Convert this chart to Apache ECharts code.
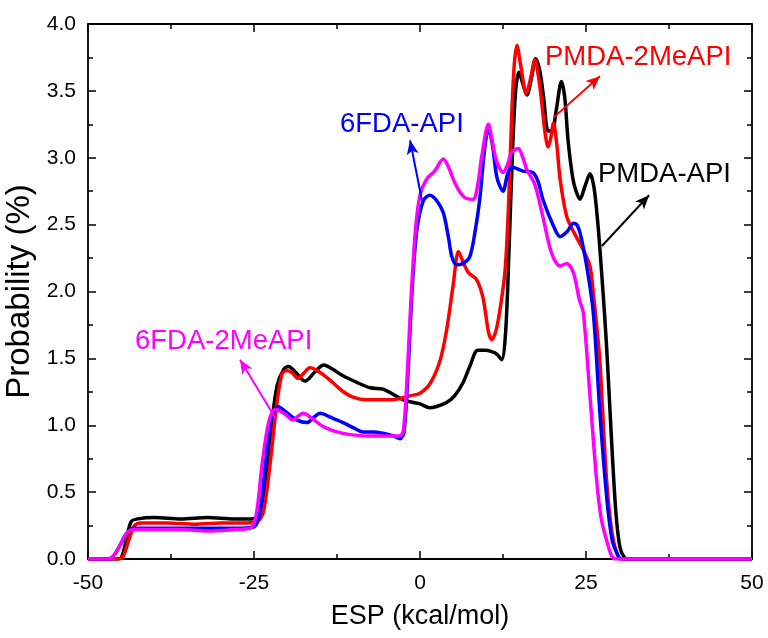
<!DOCTYPE html>
<html>
<head>
<meta charset="utf-8">
<script src="https://cdn.jsdelivr.net/npm/echarts@6/dist/echarts.min.js"></script>
<style>
  html, body { margin: 0; padding: 0; background: #fff; }
  #chart { width: 768px; height: 638px; }
</style>
</head>
<body>
<div id="chart"></div>
<script>
// ESP distribution curves, [ESP (kcal/mol), probability (%)]
var pmdaApi = [[-50,0],[-46,0],[-45,0.01],[-44.2,0.15],[-43.5,0.28],[-42.5,0.30],[-40,0.31],[-36,0.30],[-32,0.31],[-28,0.30],[-25.5,0.30],[-24.5,0.32],[-23.5,0.5],[-22.5,0.95],[-21.5,1.3],[-20.5,1.42],[-19.8,1.44],[-18.8,1.4],[-17.3,1.33],[-15.8,1.40],[-14.5,1.45],[-13.2,1.42],[-11.6,1.37],[-9.5,1.32],[-7.5,1.28],[-5.6,1.27],[-4,1.23],[-2.5,1.19],[-1,1.17],[0,1.16],[1.5,1.13],[2.5,1.14],[4,1.17],[5.2,1.22],[6.5,1.32],[7.5,1.44],[8.7,1.56],[9.8,1.56],[10.8,1.55],[11.6,1.53],[12.3,1.49],[12.9,1.7],[13.4,2.3],[13.9,3.0],[14.4,3.5],[14.9,3.64],[15.5,3.55],[16.1,3.47],[16.8,3.6],[17.4,3.74],[18.0,3.66],[18.6,3.46],[19.3,3.2],[19.9,3.2],[20.5,3.35],[21.3,3.57],[21.8,3.45],[22.3,3.13],[23.0,2.85],[23.5,2.75],[24.1,2.69],[24.8,2.78],[25.6,2.88],[26.2,2.78],[26.8,2.5],[27.5,2.04],[28.1,1.59],[28.9,0.84],[29.5,0.35],[30.1,0.09],[30.8,0.01],[31.5,0],[50,0]];
var pmda2MeApi = [[-50,0],[-45.5,0],[-44.7,0.02],[-43.8,0.15],[-43,0.25],[-42,0.27],[-38,0.27],[-34,0.26],[-30,0.27],[-26,0.27],[-24.5,0.28],[-23.6,0.35],[-22.6,0.7],[-21.6,1.15],[-20.8,1.38],[-20.1,1.41],[-19.2,1.39],[-18.4,1.35],[-17.5,1.39],[-16.6,1.43],[-15.5,1.41],[-13.6,1.34],[-11.8,1.26],[-10.1,1.21],[-8,1.19],[-6,1.19],[-4.5,1.19],[-3,1.2],[-1.5,1.22],[0,1.24],[1.5,1.31],[3,1.48],[4,1.71],[5,2.05],[5.8,2.30],[6.5,2.22],[7.3,2.14],[8.5,2.09],[9.5,1.95],[10.3,1.7],[10.8,1.64],[11.4,1.7],[12,1.85],[12.8,2.15],[13.3,2.6],[13.8,3.3],[14.2,3.7],[14.6,3.84],[15.2,3.68],[16,3.48],[16.6,3.58],[17.3,3.73],[17.8,3.62],[18.3,3.43],[18.8,3.2],[19.3,3.08],[19.7,3.15],[20.1,3.26],[20.6,3.1],[21.1,2.84],[22.1,2.56],[23.2,2.44],[24.6,2.31],[25.6,2.19],[26.1,1.99],[26.6,1.75],[27.1,1.47],[28.1,0.59],[28.9,0.2],[29.6,0.05],[30.3,0],[50,0]];
var fdaApi = [[-50,0],[-47,0],[-46.2,0.02],[-45.2,0.1],[-44.2,0.19],[-43.2,0.23],[-40,0.23],[-36,0.23],[-32,0.23],[-28,0.23],[-25,0.24],[-24.1,0.35],[-23.3,0.7],[-22.4,1.05],[-21.4,1.14],[-20.2,1.1],[-18.6,1.04],[-17,1.02],[-16,1.06],[-15,1.09],[-13.5,1.06],[-11.6,1.02],[-10,0.98],[-8.6,0.95],[-7,0.95],[-5.6,0.94],[-4,0.92],[-3,0.90],[-2.4,0.95],[-1.8,1.4],[-1.2,2.0],[-0.5,2.45],[0.5,2.68],[1.5,2.72],[2.5,2.68],[3.5,2.59],[4.3,2.4],[4.8,2.26],[5.5,2.20],[6.5,2.21],[7.5,2.26],[8.3,2.45],[9,2.69],[9.7,3.05],[10.3,3.22],[10.9,3.1],[11.6,2.85],[12.5,2.75],[13.2,2.88],[13.8,2.93],[15.5,2.90],[17,2.89],[17.8,2.82],[18.5,2.69],[20.1,2.49],[21.1,2.41],[22.2,2.45],[23.1,2.51],[23.6,2.5],[24.1,2.44],[25.1,2.19],[26.1,1.84],[27.1,1.09],[28.1,0.47],[28.9,0.15],[29.6,0.05],[30.3,0],[50,0]];
var fda2MeApi = [[-50,0],[-47,0],[-46.2,0.02],[-45.2,0.1],[-44.2,0.19],[-43.2,0.22],[-40,0.22],[-36,0.22],[-32,0.21],[-28,0.22],[-25.5,0.23],[-24.6,0.35],[-23.8,0.7],[-22.8,1.02],[-21.8,1.12],[-20.5,1.09],[-19.1,1.04],[-18.3,1.07],[-17.6,1.09],[-16.2,1.05],[-14.6,0.99],[-12.5,0.95],[-10.5,0.93],[-8,0.92],[-5.6,0.92],[-4,0.92],[-3,0.92],[-2.5,0.96],[-2,1.3],[-1.4,1.9],[-0.7,2.45],[0,2.72],[1,2.84],[2.2,2.9],[3.5,2.99],[4.3,2.93],[5,2.84],[5.8,2.76],[6.8,2.70],[8,2.69],[8.7,2.8],[9.3,3.01],[10.3,3.25],[10.9,3.12],[11.5,2.98],[12.5,2.89],[13.2,2.95],[13.8,3.04],[14.8,3.07],[15.5,3.0],[16.1,2.91],[17.3,2.80],[18.5,2.56],[19.8,2.29],[21.1,2.19],[22.1,2.21],[23.1,2.14],[24,1.94],[24.6,1.84],[25.6,1.22],[26.6,0.59],[27.3,0.3],[28.1,0.14],[28.8,0.03],[29.4,0],[50,0]];

// annotation arrows, [tail, head] in data coords
var arrowPmdaApi = [[27.4, 2.34], [34.5, 2.72]];
var arrowPmda2MeApi = [[20.1, 3.30], [27.1, 3.61]];
var arrowFdaApi = [[0.3, 2.68], [-1.5, 3.13]];
var arrowFda2MeApi = [[-21.6, 1.04], [-27.1, 1.49]];

var xTicks = [-50, -25, 0, 25, 50];
var yTicks = [0, 0.5, 1, 1.5, 2, 2.5, 3, 3.5, 4];

var font = 'Liberation Sans, Arial, sans-serif';

var chart = echarts.init(document.getElementById('chart'));

function frameAxis(pos, showLabel) {
  return {
    type: 'value',
    position: pos,
    axisLine: { show: true, onZero: false, lineStyle: { color: '#000', width: 1.8 } },
    axisTick: { show: true, inside: true, length: 8, lineStyle: { color: '#000', width: 1.5 } },
    minorTick: { show: true, splitNumber: 2, length: 5, lineStyle: { color: '#000', width: 1.5 } },
    splitLine: { show: false },
    axisLabel: { show: showLabel, color: '#000', fontSize: 21, fontFamily: font }
  };
}

var xb = frameAxis('bottom', true);
xb.min = xTicks[0]; xb.max = xTicks[xTicks.length - 1]; xb.interval = 25;
xb.axisLabel.margin = 14;
xb.name = 'ESP (kcal/mol)';
xb.nameLocation = 'middle';
xb.nameGap = 44;
xb.nameTextStyle = { color: '#000', fontSize: 27, fontFamily: font };
var xt = frameAxis('top', false);
xt.min = -50; xt.max = 50; xt.interval = 25;

var yl = frameAxis('left', true);
yl.min = yTicks[0]; yl.max = yTicks[yTicks.length - 1]; yl.interval = 0.5;
yl.axisLabel.margin = 12;
yl.axisLabel.formatter = function (v) { return v.toFixed(1); };
yl.name = 'Probability (%)';
yl.nameLocation = 'middle';
yl.nameGap = 48;
yl.nameTextStyle = { color: '#000', fontSize: 33, fontFamily: font };
var yr = frameAxis('right', false);
yr.min = 0; yr.max = 4; yr.interval = 0.5;

function arrow(pts, color) {
  return {
    silent: true,
    animation: false,
    symbol: ['none', 'arrow'],
    symbolSize: [9, 14],
    label: { show: false },
    emphasis: { disabled: true },
    lineStyle: { color: color, width: 2, type: 'solid' },
    data: [[{ coord: pts[0] }, { coord: pts[1] }]]
  };
}

function curve(name, data, color, arr) {
  return {
    name: name,
    type: 'line',
    data: data,
    showSymbol: false,
    smooth: 0.3,
    lineStyle: { color: color, width: 3.5 },
    itemStyle: { color: color },
    markLine: arrow(arr, color)
  };
}

var option = {
  animation: false,
  backgroundColor: '#fff',
  grid: { left: 88, right: 16, top: 24, bottom: 79, outerBoundsMode: 'none', containLabel: false },
  xAxis: [xb, xt],
  yAxis: [yl, yr],
  series: [
    curve('PMDA-API', pmdaApi, '#000000', arrowPmdaApi),
    curve('PMDA-2MeAPI', pmda2MeApi, '#ff0000', arrowPmda2MeApi),
    curve('6FDA-API', fdaApi, '#0000ff', arrowFdaApi),
    curve('6FDA-2MeAPI', fda2MeApi, '#ff00ff', arrowFda2MeApi)
  ],
  graphic: [
    { type: 'text', left: 340, top: 110, style: { text: '6FDA-API', fill: '#0000ff', fontSize: 27.5, fontFamily: font } },
    { type: 'text', left: 545, top: 43, style: { text: 'PMDA-2MeAPI', fill: '#ff0000', fontSize: 27.5, fontFamily: font } },
    { type: 'text', left: 598, top: 160, style: { text: 'PMDA-API', fill: '#000000', fontSize: 27.5, fontFamily: font } },
    { type: 'text', left: 135, top: 327, style: { text: '6FDA-2MeAPI', fill: '#ff00ff', fontSize: 27.5, fontFamily: font } }
  ]
};

chart.setOption(option);
</script>
</body>
</html>
